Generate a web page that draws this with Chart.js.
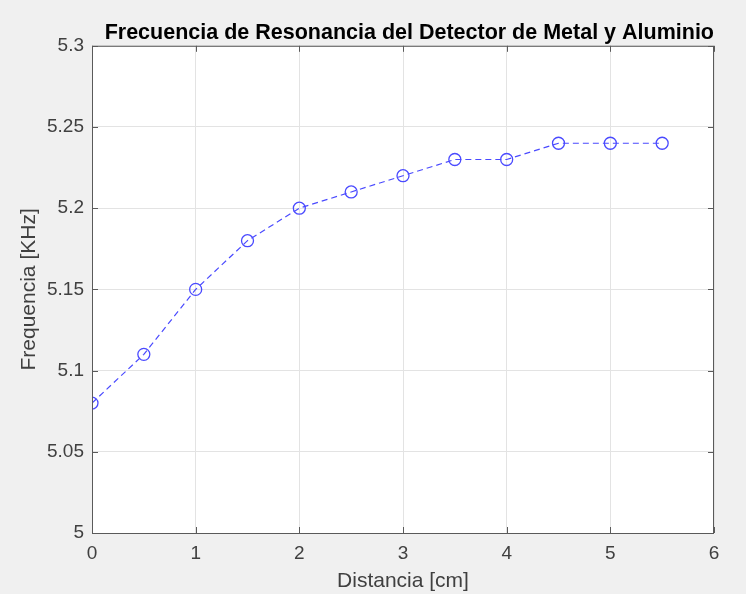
<!DOCTYPE html>
<html>
<head>
<meta charset="utf-8">
<script src="https://cdn.jsdelivr.net/npm/chart.js@4.4.0/dist/chart.umd.min.js"></script>
<style>
  html, body { margin: 0; padding: 0; background: #f0f0f0; }
  #wrap { width: 746px; height: 594px; }
</style>
</head>
<body>
<div id="wrap"><canvas id="resChart" width="746" height="594"></canvas></div>
<script>
const distancia = [0, 0.5, 1, 1.5, 2, 2.5, 3, 3.5, 4, 4.5, 5, 5.5];
const frecuencia = [5.08, 5.11, 5.15, 5.18, 5.20, 5.21, 5.22, 5.23, 5.23, 5.24, 5.24, 5.24];
const xTicks = [0, 1, 2, 3, 4, 5, 6];
const yTicks = [5, 5.05, 5.1, 5.15, 5.2, 5.25, 5.3];

const axisColor = '#5a5a5a';
const textColor = '#404040';
const font = 'Liberation Sans, Arial, sans-serif';

// MATLAB style: grey figure, white axes, ticks pointing inward on all four sides
const matlabBox = {
    id: 'matlabBox',
    beforeDraw(chart) {
        const {ctx, chartArea: a} = chart;
        ctx.save();
        ctx.fillStyle = '#f0f0f0';
        ctx.fillRect(0, 0, chart.width, chart.height);
        ctx.fillStyle = '#ffffff';
        ctx.fillRect(a.left, a.top, a.right - a.left, a.bottom - a.top);
        ctx.restore();
    },
    afterDatasetsDraw(chart) {
        const {ctx, chartArea: a, scales} = chart;
        ctx.save();
        ctx.strokeStyle = axisColor;
        ctx.lineWidth = 1;
        ctx.strokeRect(a.left + 0.5, a.top + 0.5, a.right - a.left - 1, a.bottom - a.top);
        ctx.beginPath();
        const len = 6;
        xTicks.forEach(v => {
            const px = Math.round(scales.x.getPixelForValue(v)) + 0.5;
            ctx.moveTo(px, a.bottom); ctx.lineTo(px, a.bottom - len);
            ctx.moveTo(px, a.top); ctx.lineTo(px, a.top + len);
        });
        yTicks.forEach(v => {
            const py = Math.round(scales.y.getPixelForValue(v)) + 0.5;
            ctx.moveTo(a.left, py); ctx.lineTo(a.left + len, py);
            ctx.moveTo(a.right, py); ctx.lineTo(a.right - len, py);
        });
        ctx.stroke();
        ctx.restore();
    }
};

new Chart(document.getElementById('resChart'), {
    type: 'scatter',
    data: {
        datasets: [{
            data: distancia.map((x, i) => ({x: x, y: frecuencia[i]})),
            showLine: true,
            borderColor: '#4a4aff',
            borderWidth: 1.2,
            borderDash: [6, 4],
            pointStyle: 'circle',
            pointRadius: 6,
            pointBorderWidth: 1.3,
            pointBackgroundColor: 'rgba(0,0,0,0)',
            pointBorderColor: '#4a4aff'
        }]
    },
    options: {
        responsive: false,
        animation: false,
        layout: { padding: { left: 0, right: 32, top: 0, bottom: 0 } },
        plugins: {
            legend: { display: false },
            tooltip: { enabled: false },
            title: {
                display: true,
                align: 'end',
                text: 'Frecuencia de Resonancia del Detector de Metal y Aluminio',
                color: '#000000',
                font: { family: font, size: 21.5, weight: 'bold' },
                padding: { top: 20, bottom: 0 }
            }
        },
        scales: {
            x: {
                type: 'linear',
                min: 0, max: 6,
                afterBuildTicks: s => { s.ticks = xTicks.map(v => ({value: v})); },
                afterFit: s => { s.height = 61; },
                grid: { color: '#e3e3e3', drawTicks: false },
                border: { display: false },
                ticks: { color: textColor, font: { family: font, size: 19 }, padding: 9 },
                title: { display: true, text: 'Distancia [cm]', color: textColor,
                         font: { family: font, size: 21 }, padding: { top: 0, bottom: 0 } }
            },
            y: {
                type: 'linear',
                min: 5, max: 5.3,
                afterBuildTicks: s => { s.ticks = yTicks.map(v => ({value: v})); },
                afterFit: s => { s.width = 92; },
                grid: { color: '#e3e3e3', drawTicks: false },
                border: { display: false },
                ticks: { color: textColor, font: { family: font, size: 19 }, padding: 8,
                         callback: v => String(Math.round(v * 100) / 100) },
                title: { display: true, text: 'Frequencia [KHz]', color: textColor,
                         font: { family: font, size: 21 }, padding: { top: 17, bottom: 0 } }
            }
        }
    },
    plugins: [matlabBox]
});
</script>
</body>
</html>
